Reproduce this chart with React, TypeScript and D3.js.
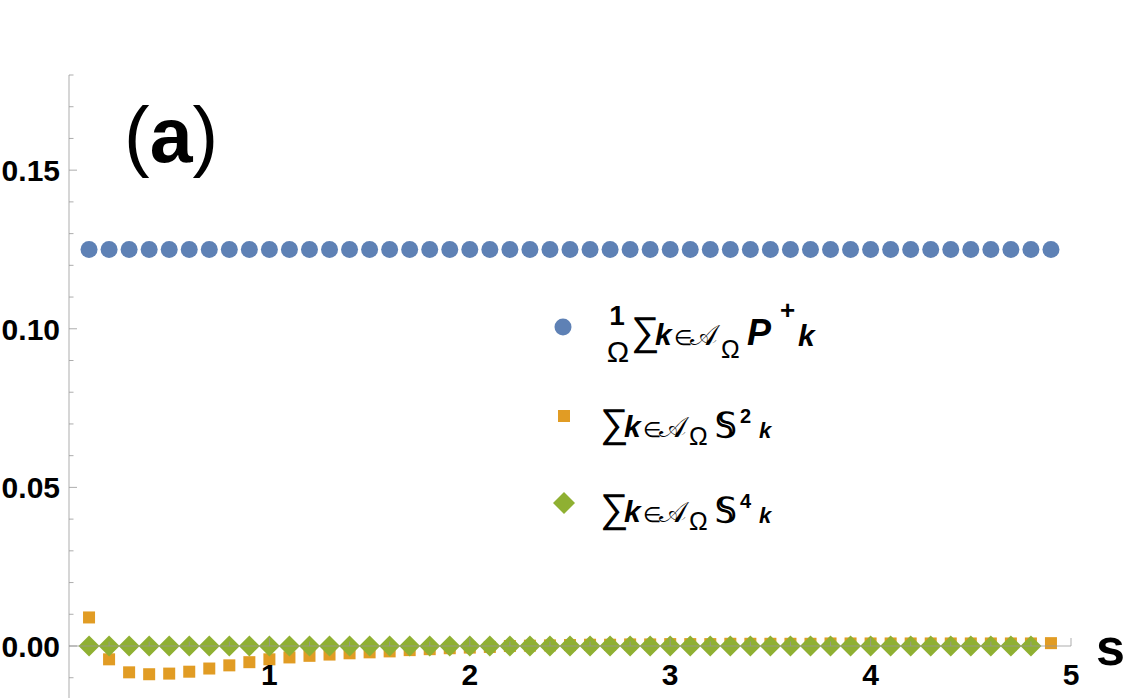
import * as d3 from "d3";

// s grid
const sValues = [
  0.1, 0.2, 0.3, 0.4, 0.5, 0.6, 0.7, 0.8, 0.9, 1.0, 1.1, 1.2, 1.3, 1.4, 1.5,
  1.6, 1.7, 1.8, 1.9, 2.0, 2.1, 2.2, 2.3, 2.4, 2.5, 2.6, 2.7, 2.8, 2.9, 3.0,
  3.1, 3.2, 3.3, 3.4, 3.5, 3.6, 3.7, 3.8, 3.9, 4.0, 4.1, 4.2, 4.3, 4.4, 4.5,
  4.6, 4.7, 4.8, 4.9,
];

// (1/Ω) Σ P+_k
const pPlusValues = [
  0.125, 0.125, 0.125, 0.125, 0.125, 0.125, 0.125, 0.125, 0.125, 0.125,
  0.125, 0.125, 0.125, 0.125, 0.125, 0.125, 0.125, 0.125, 0.125, 0.125,
  0.125, 0.125, 0.125, 0.125, 0.125, 0.125, 0.125, 0.125, 0.125, 0.125,
  0.125, 0.125, 0.125, 0.125, 0.125, 0.125, 0.125, 0.125, 0.125, 0.125,
  0.125, 0.125, 0.125, 0.125, 0.125, 0.125, 0.125, 0.125, 0.125,
];

// Σ S^2_k
const s2Values = [
  0.009, -0.0042, -0.0083, -0.0089, -0.0087, -0.0081, -0.0071, -0.0061,
  -0.0051, -0.0042, -0.0036, -0.0031, -0.0027, -0.0023, -0.002, -0.0017,
  -0.0013, -0.001, -0.0007, -0.0005, -0.0003, 0.0, 0.0001, 0.0002, 0.0003,
  0.0004, 0.0004, 0.0005, 0.0005, 0.0006, 0.0006, 0.0006, 0.0007, 0.0007,
  0.0007, 0.0007, 0.0007, 0.0008, 0.0008, 0.0008, 0.0008, 0.0008, 0.0008,
  0.0008, 0.0008, 0.0008, 0.0008, 0.0008, 0.0009,
];

// Σ S^4_k (one point shorter)
const s4Values = [
  0, 0, 0, 0, 0, 0, 0, 0, 0, 0, 0, 0, 0, 0, 0, 0, 0, 0, 0, 0, 0, 0, 0, 0, 0,
  0, 0, 0, 0, 0, 0, 0, 0, 0, 0, 0, 0, 0, 0, 0, 0, 0, 0, 0, 0, 0, 0, 0,
];

const yTickLabels = ["0.00", "0.05", "0.10", "0.15"];
const yTickValues = [0, 0.05, 0.1, 0.15];
const xTickValues = [1, 2, 3, 4, 5];

const W = 1125;
const H = 698;
const BLUE = "#5E81B5";
const ORANGE = "#E19C24";
const GREEN = "#8FB032";
const FONT = "'Liberation Sans', Arial, sans-serif";

// rotated square, r = half diagonal
const rhombusPath = (r: number) => {
  const p = d3.path();
  p.moveTo(0, -r);
  p.lineTo(r, 0);
  p.lineTo(0, r);
  p.lineTo(-r, 0);
  p.closePath();
  return p.toString();
};

function SumTerm({ y, sup }: { y: number; sup: string }) {
  return (
    <g fill="#000">
      <text x={600} y={y} fontSize={40}>∑</text>
      <text x={624} y={y} fontSize={30} fontWeight="bold" fontStyle="italic">k</text>
      <text x={643} y={y} fontSize={21}>∈</text>
      <text x={659} y={y} fontSize={29}>𝒜</text>
      <text x={689} y={y + 8} fontSize={25}>Ω</text>
      <text x={715} y={y} fontSize={34} fontWeight="bold">𝕊</text>
      <text x={740} y={y - 14} fontSize={20} fontWeight="bold">{sup}</text>
      <text x={759} y={y + 1} fontSize={22} fontWeight="bold" fontStyle="italic">k</text>
    </g>
  );
}

export default function App() {
  const x = d3.scaleLinear().domain([0, 5]).range([69, 1071]);
  const y = d3.scaleLinear().domain([0, 0.18]).range([646, 75]);
  const x0 = x(0);
  const y0 = y(0);

  const diamond = rhombusPath(10.5);
  const legendDiamond = rhombusPath(11);

  const yMinor = d3.range(-1, 19).map((i) => i / 100);
  const xMinor = d3.range(1, 26).map((i) => i * 0.2);

  return (
    <svg
      width={W}
      height={H}
      style={{ position: "absolute", left: 0, top: 0, background: "#fff" }}
      fontFamily={FONT}
    >
      {/* blue */}
      <g fill={BLUE}>
        {pPlusValues.map((v, i) => (
          <circle key={i} cx={x(sValues[i])} cy={y(v)} r={8.5} />
        ))}
      </g>
      {/* orange */}
      <g fill={ORANGE}>
        {s2Values.map((v, i) => (
          <rect
            key={i}
            x={x(sValues[i]) - 6}
            y={y(v) - 6}
            width={12}
            height={12}
          />
        ))}
      </g>
      {/* green */}
      <g fill={GREEN}>
        {s4Values.map((v, i) => (
          <path
            key={i}
            d={diamond}
            transform={`translate(${x(sValues[i])},${y(v)})`}
          />
        ))}
      </g>

      {/* axes */}
      <g stroke="#999" strokeOpacity={0.8} strokeWidth={1}>
        <line x1={x0} x2={x0} y1={y(0.18)} y2={H} />
        <line x1={x0} x2={x(5)} y1={y0} y2={y0} />
        {yMinor.map((v, i) => {
          const major = yTickValues.some((t) => Math.abs(t - v) < 1e-9);
          return (
            <line
              key={"y" + i}
              x1={x0}
              x2={x0 + (major ? 8 : 4.5)}
              y1={y(v)}
              y2={y(v)}
            />
          );
        })}
        {xMinor.map((v, i) => {
          const major = xTickValues.some((t) => Math.abs(t - v) < 1e-9);
          return (
            <line
              key={"x" + i}
              x1={x(v)}
              x2={x(v)}
              y1={y0}
              y2={y0 - (major ? 8 : 4.5)}
            />
          );
        })}
      </g>

      {/* tick labels */}
      <g fontWeight="bold" fontSize={30} fill="#000">
        {yTickValues.map((v, i) => (
          <text key={i} x={60} y={y(v)} textAnchor="end" dy="0.36em">
            {yTickLabels[i]}
          </text>
        ))}
        {xTickValues.map((v) => (
          <text key={v} x={x(v)} y={685} textAnchor="middle">
            {v}
          </text>
        ))}
      </g>

      {/* axis label */}
      <text x={1096} y={665} fontSize={52} fontWeight="bold">
        s
      </text>

      {/* panel label */}
      <text x={124} y={162} fontSize={77}>
        (<tspan fontWeight="bold">a</tspan>)
      </text>

      {/* legend */}
      <circle cx={563} cy={327} r={8.5} fill={BLUE} />
      <g fill="#000">
        <text x={617} y={325} fontSize={28} fontWeight="bold" textAnchor="middle">1</text>
        <text x={618} y={362} fontSize={30} textAnchor="middle">Ω</text>
        <text x={631} y={345} fontSize={40}>∑</text>
        <text x={655} y={345} fontSize={30} fontWeight="bold" fontStyle="italic">k</text>
        <text x={674} y={345} fontSize={21}>∈</text>
        <text x={690} y={345} fontSize={29}>𝒜</text>
        <text x={721} y={358} fontSize={25}>Ω</text>
        <text x={747} y={345} fontSize={36} fontWeight="bold" fontStyle="italic">P</text>
        <text x={780} y={319} fontSize={26} fontWeight="bold">+</text>
        <text x={798} y={346} fontSize={30} fontWeight="bold" fontStyle="italic">k</text>
      </g>

      <rect x={558} y={410} width={12} height={12} fill={ORANGE} />
      <SumTerm y={437} sup="2" />

      <path d={legendDiamond} transform="translate(564,503)" fill={GREEN} />
      <SumTerm y={522} sup="4" />
    </svg>
  );
}
